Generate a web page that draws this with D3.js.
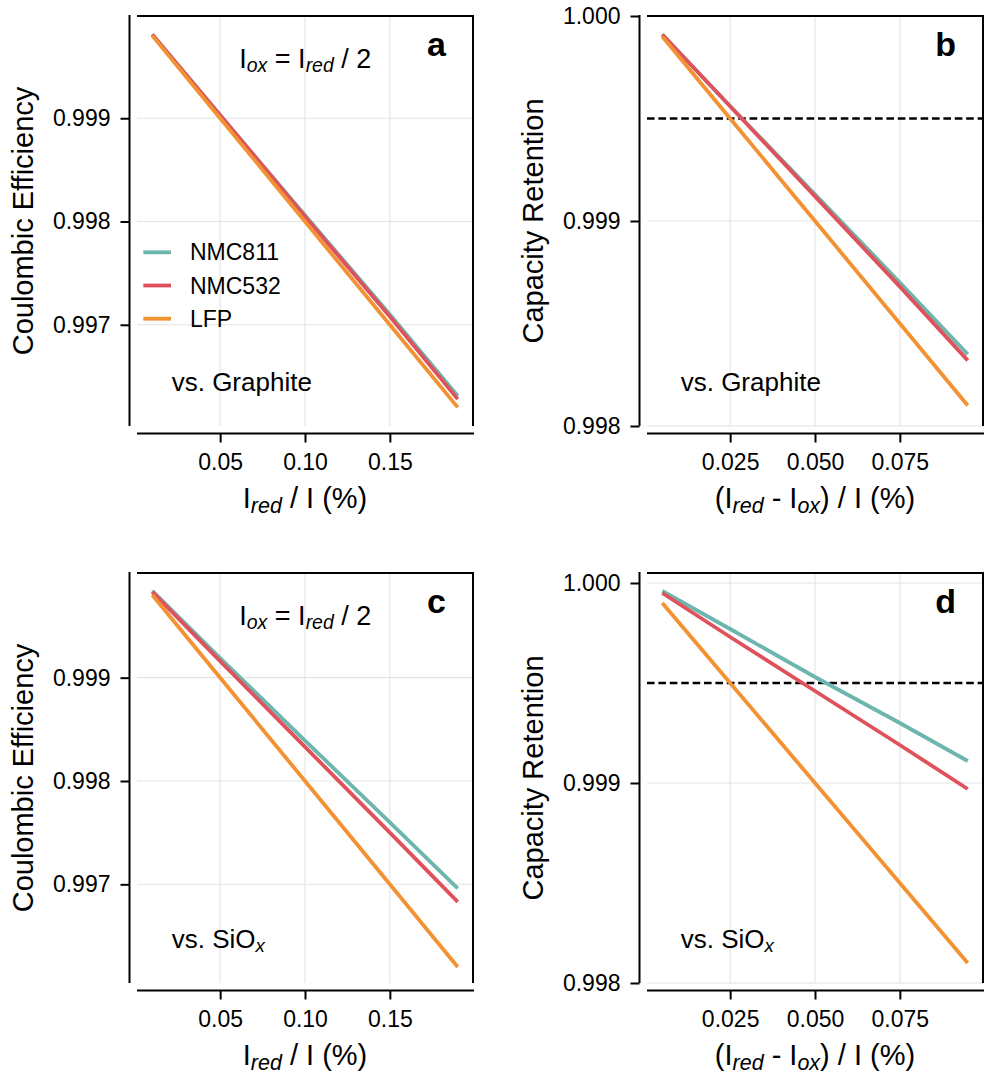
<!DOCTYPE html>
<html>
<head>
<meta charset="utf-8">
<script src="https://cdn.jsdelivr.net/npm/d3@7"></script>
<style>
  html, body { margin: 0; padding: 0; background: #fff; }
  svg { display: block; font-family: "Liberation Sans", Arial, Helvetica, sans-serif; }
</style>
</head>
<body>
<svg id="chart" width="985" height="1076"></svg>
<script>
// ---------------- DATA ----------------
const materials = ["NMC811", "NMC532", "LFP"];

// Coulombic efficiency panels (x = I_red / I, %)
const ceX = [0.01, 0.05, 0.10, 0.15, 0.19];
const ceGraphite_NMC811 = [0.99981, 0.99903, 0.99806, 0.99710, 0.99631];
const ceGraphite_NMC532 = [0.99981, 0.99903, 0.99805, 0.99708, 0.99628];
const ceGraphite_LFP    = [0.99980, 0.99900, 0.99800, 0.99700, 0.99620];
const ceSiOx_NMC811     = [0.99984, 0.99919, 0.99839, 0.99760, 0.99696];
const ceSiOx_NMC532     = [0.99983, 0.99916, 0.99833, 0.99750, 0.99683];
const ceSiOx_LFP        = [0.99980, 0.99900, 0.99800, 0.99700, 0.99620];

// Capacity retention panels (x = (I_red - I_ox) / I, %)
const crX = [0.005, 0.025, 0.050, 0.075, 0.095];
const crGraphite_NMC811 = [0.99991, 0.99956, 0.99913, 0.99870, 0.99835];
const crGraphite_NMC532 = [0.99991, 0.99956, 0.99912, 0.99868, 0.99832];
const crGraphite_LFP    = [0.99990, 0.99950, 0.99900, 0.99850, 0.99810];
const crSiOx_NMC811     = [0.99996, 0.99977, 0.99953, 0.99930, 0.99911];
const crSiOx_NMC532     = [0.99995, 0.99973, 0.99946, 0.99919, 0.99897];
const crSiOx_LFP        = [0.99990, 0.99950, 0.99900, 0.99850, 0.99810];

const retentionThreshold = 0.9995;

const ceXTicks = [0.05, 0.10, 0.15];
const ceYTicks = [0.997, 0.998, 0.999];
const crXTicks = [0.025, 0.050, 0.075];
const crYTicks = [0.998, 0.999, 1.000];

const panelLetters = ["a", "b", "c", "d"];
const anodeLabels = ["Graphite", "Graphite", "SiO", "SiO"];

// ---------------- STYLE ----------------
const colors = ["#6db6ae", "#df525c", "#f39233"];
const W = 336, H = 410, OFF = 7.5;
const FONT_TICK = 23, FONT_LABEL = 29, FONT_LEG = 23, FONT_NOTE = 26, FONT_LETTER = 34;

const panels = [
  { x0: 137, y0: 16,  kind: "ce", xs: ceX, ys: [ceGraphite_NMC811, ceGraphite_NMC532, ceGraphite_LFP],
    xDom: [0.001, 0.199], yDom: [0.99602, 0.99999], legend: true },
  { x0: 647, y0: 16,  kind: "cr", xs: crX, ys: [crGraphite_NMC811, crGraphite_NMC532, crGraphite_LFP],
    xDom: [0.0005, 0.0995], yDom: [0.998, 1.000] },
  { x0: 137, y0: 573, kind: "ce", xs: ceX, ys: [ceSiOx_NMC811, ceSiOx_NMC532, ceSiOx_LFP],
    xDom: [0.001, 0.199], yDom: [0.996045, 1.000013] },
  { x0: 647, y0: 573, kind: "cr", xs: crX, ys: [crSiOx_NMC811, crSiOx_NMC532, crSiOx_LFP],
    xDom: [0.0005, 0.0995], yDom: [0.998, 1.00005] }
];

const svg = d3.select("#chart");

panels.forEach((p, i) => {
  const g = svg.append("g").attr("transform", `translate(${p.x0},${p.y0})`);
  const x = d3.scaleLinear().domain(p.xDom).range([0, W]);
  const y = d3.scaleLinear().domain(p.yDom).range([H, 0]);
  const xTicks = p.kind === "ce" ? ceXTicks : crXTicks;
  const yTicks = p.kind === "ce" ? ceYTicks : crYTicks;
  const xFmt = p.kind === "ce" ? d3.format(".2f") : d3.format(".3f");
  const yFmt = d3.format(".3f");

  // grid
  g.append("g").selectAll("line").data(xTicks).join("line")
    .attr("x1", d => x(d)).attr("x2", d => x(d)).attr("y1", 0).attr("y2", H)
    .attr("stroke", "#e3e3e3").attr("stroke-width", 1.1);
  g.append("g").selectAll("line").data(yTicks).join("line")
    .attr("x1", 0).attr("x2", W).attr("y1", d => y(d)).attr("y2", d => y(d))
    .attr("stroke", "#e3e3e3").attr("stroke-width", 1.1);

  // threshold line
  if (p.kind === "cr") {
    g.append("line")
      .attr("x1", 0).attr("x2", W)
      .attr("y1", y(retentionThreshold)).attr("y2", y(retentionThreshold))
      .attr("stroke", "#000").attr("stroke-width", 2.5)
      .attr("stroke-dasharray", "7.6,3.8");
  }

  // series
  const line = d3.line().x(d => x(d[0])).y(d => y(d[1]));
  p.ys.forEach((vals, k) => {
    const pts = p.xs.map((xv, j) => [xv, vals[j]]);
    g.append("path").datum(pts)
      .attr("d", line)
      .attr("fill", "none")
      .attr("stroke", colors[k])
      .attr("stroke-width", 3.8)
      .attr("stroke-linejoin", "round")
      .attr("stroke-linecap", "butt");
  });

  // frame: top & right
  g.append("line").attr("x1", 0).attr("x2", W).attr("y1", 0).attr("y2", 0)
    .attr("stroke", "#000").attr("stroke-width", 2);
  g.append("line").attr("x1", W).attr("x2", W).attr("y1", -1).attr("y2", H)
    .attr("stroke", "#000").attr("stroke-width", 2);

  // left axis (offset)
  const yAxis = d3.axisLeft(y).tickValues(yTicks).tickFormat(yFmt).tickSizeOuter(0).tickSize(9).tickPadding(10);
  const ya = g.append("g").attr("transform", `translate(${-OFF},0)`).call(yAxis);
  ya.select(".domain").remove();
  ya.append("line").attr("x1", 0).attr("x2", 0).attr("y1", -1).attr("y2", H)
    .attr("stroke", "#000").attr("stroke-width", 2);
  ya.selectAll(".tick line").attr("stroke", "#000").attr("stroke-width", 2);
  ya.selectAll(".tick text").attr("font-size", FONT_TICK).attr("fill", "#000")
    .attr("font-family", "Liberation Sans, Arial, sans-serif");

  // bottom axis (offset)
  const xAxis = d3.axisBottom(x).tickValues(xTicks).tickFormat(xFmt).tickSizeOuter(0).tickSize(9).tickPadding(11);
  const xa = g.append("g").attr("transform", `translate(0,${H + OFF})`).call(xAxis);
  xa.select(".domain").remove();
  xa.append("line").attr("x1", 0).attr("x2", W + 1).attr("y1", 0).attr("y2", 0)
    .attr("stroke", "#000").attr("stroke-width", 2);
  xa.selectAll(".tick line").attr("stroke", "#000").attr("stroke-width", 2);
  xa.selectAll(".tick text").attr("font-size", FONT_TICK).attr("fill", "#000")
    .attr("font-family", "Liberation Sans, Arial, sans-serif");

  // y label
  g.append("text")
    .attr("transform", `translate(${-104.5},${H / 2}) rotate(-90)`)
    .attr("text-anchor", "middle").attr("font-size", FONT_LABEL).attr("fill", "#000")
    .text(p.kind === "ce" ? "Coulombic Efficiency" : "Capacity Retention");

  // x label
  const xl = g.append("text").attr("x", W / 2).attr("y", H + 82)
    .attr("text-anchor", "middle").attr("font-size", FONT_LABEL).attr("fill", "#000");
  if (p.kind === "ce") {
    xl.append("tspan").text("I");
    xl.append("tspan").attr("font-style", "italic").attr("font-size", FONT_LABEL * 0.74).attr("dy", 5).text("red");
    xl.append("tspan").attr("dy", -5).text(" / I (%)");
  } else {
    xl.append("tspan").text("(I");
    xl.append("tspan").attr("font-style", "italic").attr("font-size", FONT_LABEL * 0.74).attr("dy", 5).text("red");
    xl.append("tspan").attr("dy", -5).text(" - I");
    xl.append("tspan").attr("font-style", "italic").attr("font-size", FONT_LABEL * 0.74).attr("dy", 5).text("ox");
    xl.append("tspan").attr("dy", -5).text(") / I (%)");
  }

  // panel letter
  g.append("text").attr("x", W - 27).attr("y", 40)
    .attr("text-anchor", "end").attr("font-size", FONT_LETTER).attr("font-weight", "bold")
    .attr("fill", "#000").text(panelLetters[i]);

  // Iox = Ired / 2 note
  if (p.kind === "ce") {
    const t = g.append("text").attr("x", 102.3).attr("y", 51.5)
      .attr("font-size", 27).attr("fill", "#000");
    t.append("tspan").text("I");
    t.append("tspan").attr("font-style", "italic").attr("font-size", 27 * 0.72).attr("dy", 4).text("ox");
    t.append("tspan").attr("dy", -4).text(" = I");
    t.append("tspan").attr("font-style", "italic").attr("font-size", 27 * 0.72).attr("dy", 4).text("red");
    t.append("tspan").attr("dy", -4).text(" / 2");
  }

  // anode note
  const an = g.append("text").attr("x", p.kind === "ce" ? 34.7 : 33.7).attr("y", 375.3)
    .attr("font-size", FONT_NOTE).attr("fill", "#000");
  an.append("tspan").text("vs. " + anodeLabels[i]);
  if (anodeLabels[i] === "SiO") {
    an.append("tspan").attr("font-style", "italic").attr("font-size", FONT_NOTE * 0.72).attr("dy", 4).text("x");
  }

  // legend
  if (p.legend) {
    const lg = g.append("g");
    const rows = lg.selectAll("g").data(materials).join("g")
      .attr("transform", (d, k) => `translate(6.3,${236.3 + k * 33.2})`);
    rows.append("line").attr("x1", 0).attr("x2", 27.7).attr("y1", 0).attr("y2", 0)
      .attr("stroke", (d, k) => colors[k]).attr("stroke-width", 3.8);
    rows.append("text").attr("x", 46.7).attr("y", 0).attr("dy", "0.35em")
      .attr("font-size", FONT_LEG).attr("fill", "#000").text(d => d);
  }
});
</script>
</body>
</html>
